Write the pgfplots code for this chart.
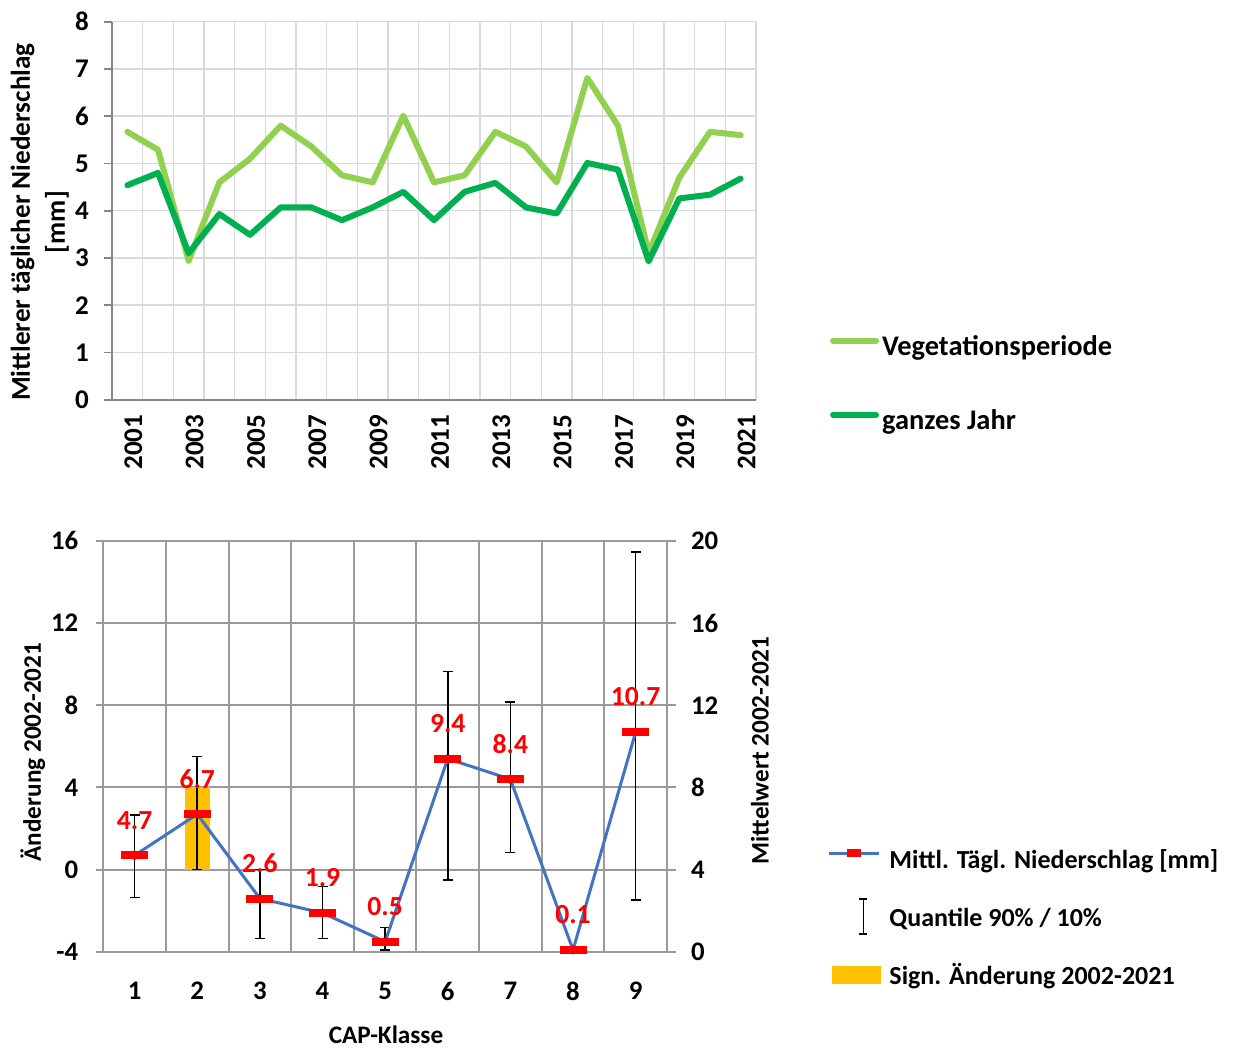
\documentclass[border=0pt]{standalone}
\usepackage{pgfplots}
\pgfplotsset{compat=1.18}
\usepackage{pgfplotstable}
\usepackage{fontspec}
\setmainfont{Carlito}
\definecolor{vegc}{HTML}{92D050}
\definecolor{jahrc}{HTML}{00B050}
\definecolor{gridA}{HTML}{D9D9D9}
\definecolor{axisA}{HTML}{868686}
\definecolor{gridB}{HTML}{9A9A9A}
\definecolor{lineB}{HTML}{4472C4}
\definecolor{barB}{HTML}{FFC000}
\newcommand{\fTop}{\fontsize{13.5}{16}\selectfont\bfseries}
\newcommand{\fLab}{\fontsize{13.6}{17.5}\selectfont\bfseries}
\newcommand{\fLeg}{\fontsize{14.2}{17}\selectfont\bfseries}
\newcommand{\fBot}{\fontsize{13.4}{15}\selectfont\bfseries}
\newcommand{\fNum}{\fontsize{13.8}{15}\selectfont\bfseries}
\newcommand{\fAx}{\fontsize{12.6}{15}\selectfont\bfseries}
\newcommand{\fLegB}{\fontsize{13}{16}\selectfont\bfseries}

\pgfplotstableread{
year veg jahr
2001 5.67 4.54
2002 5.29 4.80
2003 2.94 3.10
2004 4.60 3.93
2005 5.10 3.49
2006 5.80 4.07
2007 5.36 4.07
2008 4.75 3.80
2009 4.60 4.07
2010 6.01 4.40
2011 4.60 3.80
2012 4.75 4.40
2013 5.67 4.59
2014 5.36 4.07
2015 4.60 3.94
2016 6.81 5.01
2017 5.80 4.87
2018 3.10 2.93
2019 4.70 4.26
2020 5.67 4.34
2021 5.60 4.68
}\topdata

\pgfplotstableread{
x mean hi lo lab
1 4.7 6.66 2.66 4.7
2 6.7 9.50 4.00 6.7
3 2.6 4.00 0.66 2.6
4 1.9 3.18 0.66 1.9
5 0.5 1.20 0.10 0.5
6 9.4 13.65 3.50 9.4
7 8.4 12.16 4.83 8.4
8 0.1 0.10 0.10 0.1
9 10.7 19.46 2.53 10.7
}\capdata

\begin{document}
\begin{tikzpicture}
\useasboundingbox (0pt,0pt) rectangle (630pt,-524.5pt);

% ---------------- top chart ----------------
\begin{axis}[
  at={(56pt,-199.85pt)}, anchor=south west,
  scale only axis, width=322pt, height=189pt,
  xmin=2000.5, xmax=2021.5, ymin=0, ymax=8,
  xtick={2001,2003,...,2021},
  minor xtick={2001.5,2002.5,...,2021.5},
  ytick={0,1,...,8},
  xminorgrids, ymajorgrids,
  grid style={gridA, line width=0.75pt},
  minor grid style={gridA, line width=0.75pt},
  axis x line*=bottom, axis y line*=left,
  axis line style={axisA, line width=0.9pt},
  tick align=outside, major tick length=4pt, minor tick length=0pt,
  xtick style={draw=none},
  ytick style={axisA, line width=0.9pt},
  /pgf/number format/assume math mode=true,
  /pgf/number format/1000 sep={},
  tick label style={font=\fTop, black},
  x tick label style={rotate=90, anchor=east, yshift=-3pt},
  y tick label style={xshift=-4pt},
  ylabel={Mittlerer täglicher Niederschlag\\{[mm]}},
  ylabel style={font=\fLab, align=center, at={(axis description cs:-0.112,0.47)}, anchor=center},
  legend cell align=left,
  legend style={at={(rel axis cs:1.115,0.1746)}, anchor=north west,
    draw=none, fill=none, inner sep=0pt, outer sep=0pt,
    row sep=22pt, column sep=0pt, font=\fLeg,
    nodes={inner sep=1pt, text height=10pt, text depth=3pt}},
  legend image code/.code={\draw[#1, line width=3pt, line cap=round] (1.5pt,4pt) -- (23pt,4pt); \path[draw=none,fill=none] (0pt,0pt) -- (25pt,0pt);},
]
\addplot[vegc, line width=3pt, line join=round, line cap=round] table[x=year, y=veg]{\topdata};
\addlegendentry{Vegetationsperiode}
\addplot[jahrc, line width=3pt, line join=round, line cap=round] table[x=year, y=jahr]{\topdata};
\addlegendentry{ganzes Jahr}
\end{axis}

% ---------------- bottom chart (left axis) ----------------
\begin{axis}[
  at={(51.65pt,-476pt)}, anchor=south west,
  scale only axis, width=281.85pt, height=205.65pt,
  xmin=0.5, xmax=9.5, ymin=-4, ymax=16,
  xtick={1,...,9},
  minor xtick={1.5,2.5,...,8.5},
  ytick={-4,0,...,16},
  xminorgrids, ymajorgrids,
  grid style={gridB, line width=1pt},
  minor grid style={gridB, line width=1pt},
  axis line style={gridB, line width=1pt},
  tick align=outside, major tick length=3.5pt, minor tick length=0pt,
  ytick pos=left,
  xtick style={draw=none},
  ytick style={gridB, line width=1pt},
  /pgf/number format/assume math mode=true,
  tick label style={font=\fBot, black},
  x tick label style={yshift=-8pt},
  y tick label style={xshift=-5.5pt},
  ylabel={Änderung 2002-2021},
  ylabel style={font=\fAx, at={(axis description cs:-0.125,0.486)}, anchor=center},
  xlabel={CAP-Klasse},
  xlabel style={font=\fAx, at={(axis description cs:0.5015,-0.2),}, anchor=center},
  reverse legend,
  legend cell align=left,
  legend style={at={(rel axis cs:1.2856,0.2577)}, anchor=north west,
    draw=none, fill=none, inner sep=0pt, outer sep=0pt,
    row sep=14pt, column sep=0pt, font=\fLegB,
    nodes={inner sep=1pt, text height=10pt, text depth=3pt}},
]
\addplot[ybar, bar width=12.5pt, fill=barB, draw=none,
  legend image code/.code={\fill[barB] (1.5pt,-3.5pt) rectangle (26pt,5.5pt); \path[draw=none,fill=none] (0pt,0pt) -- (29pt,0pt);}]
  coordinates {(2,4)};
\addlegendentry{Sign. Änderung 2002-2021}

\addplot[black, only marks, mark=none,
  error bars/.cd, y dir=both, y explicit,
  error mark=|,
  error bar style={black, line width=0.75pt, solid},
  error mark options={black, line width=0.75pt, mark size=2.5pt, solid},
  /pgfplots/legend image code/.code={
    \draw[black, line width=0.75pt, overlay] (17pt,-7.5pt) -- (17pt,10pt);
    \draw[black, line width=0.75pt, overlay] (15pt,-7.5pt) -- (19pt,-7.5pt);
    \draw[black, line width=0.75pt, overlay] (15pt,10pt) -- (19pt,10pt);
    \path[draw=none,fill=none] (0pt,0pt) -- (29pt,0pt);}]
  table[x=x, y expr=\thisrow{mean}-4,
        y error plus expr=\thisrow{hi}-\thisrow{mean},
        y error minus expr=\thisrow{mean}-\thisrow{lo}]{\capdata};
\addlegendentry{Quantile 90\% / 10\%}

\addplot[lineB, line width=1.5pt, line join=round,
  mark=-, mark size=6.75pt, mark options={red, line width=4pt, solid},
  nodes near coords, point meta=explicit symbolic,
  every node near coord/.append style={red, font=\fNum, anchor=center, yshift=17.5pt},
  legend image code/.code={
    \draw[lineB, line width=1.5pt] (0pt,4pt) -- (25pt,4pt);
    \draw[red, line width=4pt] (9pt,4pt) -- (16pt,4pt);
    \path[draw=none,fill=none] (0pt,0pt) -- (29pt,0pt);}]
  table[x=x, y expr=\thisrow{mean}-4, meta=lab]{\capdata};
\addlegendentry{Mittl. Tägl. Niederschlag [mm]}
\end{axis}

% ---------------- bottom chart (right axis) ----------------
\begin{axis}[
  at={(51.65pt,-476pt)}, anchor=south west,
  scale only axis, width=281.85pt, height=205.65pt,
  xmin=0.5, xmax=9.5, ymin=0, ymax=20,
  ytick={0,4,...,20},
  axis y line*=right, axis x line=none,
  axis line style={gridB, line width=1pt},
  tick align=outside, major tick length=4.5pt,
  ytick style={gridB, line width=1pt},
  /pgf/number format/assume math mode=true,
  tick label style={font=\fBot, black},
  y tick label style={xshift=4pt},
  ylabel={Mittelwert 2002-2021},
  ylabel style={font=\fAx, at={(axis description cs:1.165,0.49)}, anchor=center, rotate=0},
]
\addplot[draw=none] coordinates {(1,0)};
\end{axis}
\end{tikzpicture}
\end{document}
